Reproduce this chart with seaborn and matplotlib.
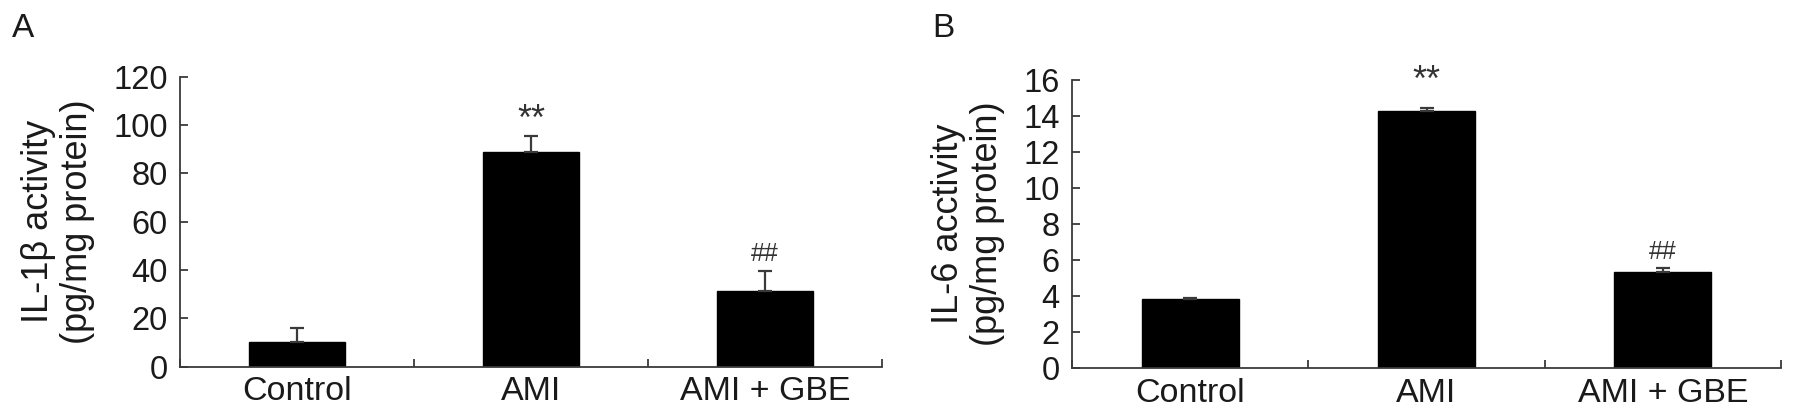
import numpy as np
import pandas as pd
import matplotlib
matplotlib.use("Agg")
import matplotlib.pyplot as plt
import seaborn as sns

# Data
groups = ["Control", "AMI", "AMI + GBE"]

il1b_mean = [10.1, 88.8, 31.3]
il1b_err = [5.8, 6.5, 8.4]
il1b_marks = ["", "**", "##"]
il1b_mark_y = [0, 102, 46.5]

il6_mean = [3.83, 14.26, 5.37]
il6_err = [0.09, 0.18, 0.22]
il6_marks = ["", "**", "##"]
il6_mark_y = [0, 15.9, 6.45]

sns.set_style("ticks")
plt.rcParams["font.family"] = ["Liberation Sans", "DejaVu Sans"]

axis_col = "#3a3a3a"
text_col = "#1a1a1a"

fig = plt.figure(figsize=(17.95, 4.17), dpi=100)
ax_a = fig.add_axes([180 / 1795, 1 - 366.7 / 417, 702 / 1795, 290 / 417])
ax_b = fig.add_axes([1072 / 1795, 1 - 368.3 / 417, 709 / 1795, 288.3 / 417])


def draw_panel(ax, means, errs, marks, mark_y, ylabel, ymax, ystep):
    df = pd.DataFrame({"group": groups, "value": means})
    sns.barplot(data=df, x="group", y="value", color="black",
                width=0.41, errorbar=None, edgecolor="black",
                saturation=1, ax=ax)
    ax.errorbar(range(len(groups)), means,
                yerr=[np.zeros(len(errs)), errs],
                fmt="none", ecolor=axis_col, elinewidth=1.6,
                capsize=4.7, capthick=1.6, zorder=1)

    for i, m in enumerate(marks):
        if not m:
            continue
        size = 26 if m == "**" else 18
        ax.text(i, mark_y[i], m, ha="center", va="center",
                fontsize=size, color="#333333")

    ax.set_xlim(-0.5, 2.5)
    ax.set_ylim(0, ymax)
    ax.set_yticks(np.arange(0, ymax + ystep / 2, ystep))
    ax.set_xticks([-0.5, 0.5, 1.5, 2.5], minor=True)
    ax.tick_params(axis="x", which="major", length=0, pad=7,
                   labelsize=24.5, labelcolor=text_col)
    ax.tick_params(axis="x", which="minor", direction="in", length=6,
                   width=1.3, color=axis_col)
    ax.tick_params(axis="y", direction="in", length=6, width=1.3,
                   color=axis_col, pad=9, labelsize=23.5,
                   labelcolor=text_col)

    ax.set_xlabel("")
    ax.set_ylabel(ylabel, fontsize=26, color=text_col, labelpad=13,
                  linespacing=1.15)

    sns.despine(ax=ax)
    for side in ["left", "bottom"]:
        ax.spines[side].set_color(axis_col)
        ax.spines[side].set_linewidth(1.3)


draw_panel(ax_a, il1b_mean, il1b_err, il1b_marks, il1b_mark_y,
           "IL-1\u03b2 activity\n(pg/mg protein)", 120, 20)
draw_panel(ax_b, il6_mean, il6_err, il6_marks, il6_mark_y,
           "IL-6 acctivity\n(pg/mg protein)", 16, 2)

fig.text(12 / 1795, 1 - 37 / 417, "A", fontsize=24, color=text_col,
         va="baseline", ha="left")
fig.text(932 / 1795, 1 - 37 / 417, "B", fontsize=24, color=text_col,
         va="baseline", ha="left")

fig.savefig("out.png", dpi=100)
